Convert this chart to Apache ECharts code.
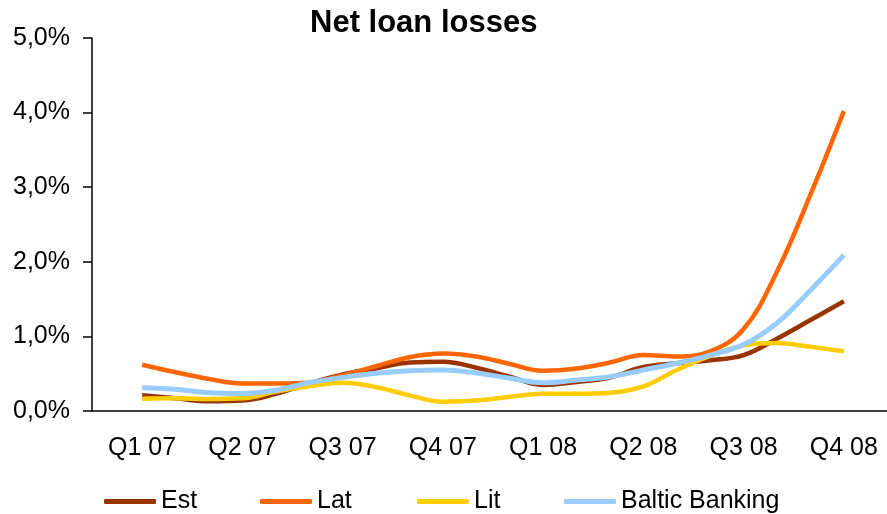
<!DOCTYPE html>
<html>
<head>
<meta charset="utf-8">
<script src="https://cdn.jsdelivr.net/npm/echarts@6/dist/echarts.min.js"></script>
<style>html,body{margin:0;padding:0;background:#fff;overflow:hidden}#c{width:900px;height:514px}</style>
</head>
<body>
<div id="c"></div>
<script>
var quarters = ['Q1 07','Q2 07','Q3 07','Q4 07','Q1 08','Q2 08','Q3 08','Q4 08'];
var yTicks = [0, 1, 2, 3, 4, 5];
// monthly observations from the middle of Q1 07 to the middle of Q4 08 (%)
var est = [0.21, 0.17, 0.13, 0.14, 0.23, 0.37, 0.49, 0.57, 0.65, 0.66, 0.58, 0.46, 0.35, 0.39, 0.45, 0.59, 0.64, 0.68, 0.75, 0.97, 1.22, 1.47];
var lat = [0.62, 0.52, 0.43, 0.37, 0.37, 0.38, 0.48, 0.60, 0.72, 0.77, 0.73, 0.63, 0.54, 0.57, 0.65, 0.75, 0.73, 0.80, 1.10, 1.87, 2.90, 4.02];
var lit = [0.165, 0.17, 0.16, 0.17, 0.26, 0.33, 0.38, 0.32, 0.21, 0.125, 0.14, 0.19, 0.23, 0.23, 0.245, 0.33, 0.55, 0.74, 0.88, 0.91, 0.86, 0.80];
var baltic = [0.31, 0.29, 0.245, 0.235, 0.28, 0.38, 0.45, 0.505, 0.54, 0.55, 0.51, 0.44, 0.38, 0.415, 0.46, 0.55, 0.64, 0.75, 0.89, 1.18, 1.62, 2.09];

function toPairs(arr){ return arr.map(function(v,k){ return [0.5 + k/3, v]; }); }

var FONT = 'Liberation Sans, Arial, sans-serif';
var chart = echarts.init(document.getElementById('c'));
function legendAt(name, left){
  return {data:[name], left:left, top:484, icon:'roundRect', itemWidth:52, itemHeight:5, itemGap:0,
    textStyle:{fontFamily:FONT, fontSize:25, color:'#000', padding:[0,0,0,0]}, selectedMode:false};
}
chart.setOption({
  animation:false,
  title:{text:'Net loan losses', left:305, top:3, textStyle:{fontFamily:FONT, fontSize:31, fontWeight:'bold', color:'#000'}},
  legend:[legendAt('Est',99), legendAt('Lat',255), legendAt('Lit',412), legendAt('Baltic Banking',559)],
  grid:{left:92, top:38, width:802, height:373},
  xAxis:[
    {type:'category', data:quarters, boundaryGap:true,
     axisLine:{lineStyle:{color:'#000', width:1.5}},
     axisTick:{length:9, lineStyle:{color:'#000', width:1.5}},
     axisLabel:{fontFamily:FONT, fontSize:25, color:'#000', margin:25}},
    {type:'value', min:0, max:8, show:false}
  ],
  yAxis:{type:'value', min:yTicks[0], max:yTicks[yTicks.length-1], interval:1,
    splitLine:{show:false},
    axisLine:{show:true, lineStyle:{color:'#000', width:1.5}},
    axisTick:{show:true, length:9, lineStyle:{color:'#000', width:1.5}},
    axisLabel:{fontFamily:FONT, fontSize:25, color:'#000', margin:22,
      formatter:function(v){ return v.toFixed(1).replace('.', ',') + '%'; }}},
  series:[
    {name:'Est', type:'line', xAxisIndex:1, data:toPairs(est), smooth:0.4, showSymbol:false, lineStyle:{color:'#993300', width:4.5}, itemStyle:{color:'#993300'}},
    {name:'Lat', type:'line', xAxisIndex:1, data:toPairs(lat), smooth:0.4, showSymbol:false, lineStyle:{color:'#FF6600', width:4.5}, itemStyle:{color:'#FF6600'}},
    {name:'Lit', type:'line', xAxisIndex:1, data:toPairs(lit), smooth:0.4, showSymbol:false, lineStyle:{color:'#FFCC00', width:4.5}, itemStyle:{color:'#FFCC00'}},
    {name:'Baltic Banking', type:'line', xAxisIndex:1, data:toPairs(baltic), smooth:0.4, showSymbol:false, lineStyle:{color:'#99CCFF', width:5}, itemStyle:{color:'#99CCFF'}}
  ]
});
</script>
</body>
</html>
